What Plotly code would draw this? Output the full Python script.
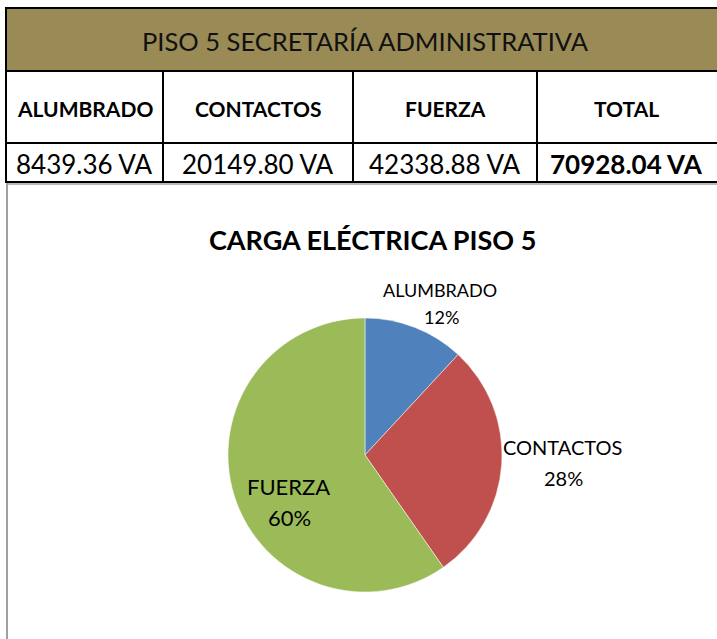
import plotly.graph_objects as go

W, H = 717, 639

# datos
titulo_tabla = "PISO 5 SECRETARÍA ADMINISTRATIVA"
titulo_grafico = "CARGA ELÉCTRICA PISO 5"
categorias = ["ALUMBRADO", "CONTACTOS", "FUERZA"]
cargas_va = [8439.36, 20149.80, 42338.88]
total_va = 70928.04
colores = ["#4F81BD", "#C0504D", "#9BBB59"]

FONT = "Lato"
OLIVO = "#998A56"


def py(px):
    # pixel desde arriba -> coordenada paper
    return 1 - px / H


def px_x(px):
    return px / W


def texto(fig, t, x, y, size, color="black"):
    fig.add_annotation(text=t, xref="paper", yref="paper",
                       x=px_x(x), y=py(y), xanchor="center", yanchor="middle",
                       showarrow=False, font=dict(family=FONT, size=size, color=color))


fig = go.Figure()

# ---------------- tabla (rectangulos + textos) ----------------
bordes_col = [6, 163, 353, 537, 722]
bordes_fil = [8, 71, 143, 182]

encabezados = categorias + ["TOTAL"]
valores = [f"{v:.2f} VA" for v in cargas_va] + [f"<b>{total_va:.2f} VA</b>"]

# fila del titulo
fig.add_shape(type="rect", xref="paper", yref="paper",
              x0=px_x(bordes_col[0]), x1=px_x(bordes_col[-1]),
              y0=py(bordes_fil[1]), y1=py(bordes_fil[0]),
              fillcolor=OLIVO, line=dict(color="black", width=2), layer="below")
texto(fig, titulo_tabla, 365, 41, 25.5, "#111111")

for i, (enc, val) in enumerate(zip(encabezados, valores)):
    x0, x1 = bordes_col[i], bordes_col[i + 1]
    for j in (1, 2):
        fig.add_shape(type="rect", xref="paper", yref="paper",
                      x0=px_x(x0), x1=px_x(x1),
                      y0=py(bordes_fil[j + 1]), y1=py(bordes_fil[j]),
                      fillcolor="white", line=dict(color="black", width=2), layer="below")
    xc = (x0 + x1) / 2 if i < 3 else (x0 + 715) / 2
    texto(fig, f"<b>{enc}</b>", xc, 108, 21)
    texto(fig, val, xc, 164, 26)

# bordes grises del area del grafico
fig.add_shape(type="line", xref="paper", yref="paper",
              x0=px_x(7), x1=px_x(7), y0=0, y1=py(183),
              line=dict(color="#A0A0A0", width=2))
fig.add_shape(type="line", xref="paper", yref="paper",
              x0=px_x(7), x1=1, y0=py(184), y1=py(184),
              line=dict(color="#A0A0A0", width=1.5))

# ---------------- pastel ----------------
fig.add_trace(go.Pie(
    labels=categorias,
    values=cargas_va,
    marker=dict(colors=colores, line=dict(color="white", width=0.5)),
    sort=False,
    direction="clockwise",
    rotation=0,
    textinfo="none",
    showlegend=False,
    domain=dict(x=[px_x(228), px_x(502)], y=[py(592), py(318)]),
    hoverinfo="label+value+percent",
))

# etiquetas de datos (nombre arriba, porcentaje abajo)
total_pie = sum(cargas_va)
pos_etiquetas = [(440, 290, 317, 18), (562, 447, 478, 20), (288, 486, 517, 22)]
for cat, v, (xe, y_nom, y_pct, fs) in zip(categorias, cargas_va, pos_etiquetas):
    texto(fig, cat, xe, y_nom, fs)
    texto(fig, f"{v / total_pie * 100:.0f}%", xe + 1, y_pct, fs)

texto(fig, f"<b>{titulo_grafico}</b>", 372, 239, 27)

fig.update_layout(
    width=W, height=H,
    margin=dict(l=0, r=0, t=0, b=0),
    paper_bgcolor="white",
    plot_bgcolor="white",
)

fig.write_html("out.html", config={"displayModeBar": False},
               post_script="document.body.style.margin='0px';")
